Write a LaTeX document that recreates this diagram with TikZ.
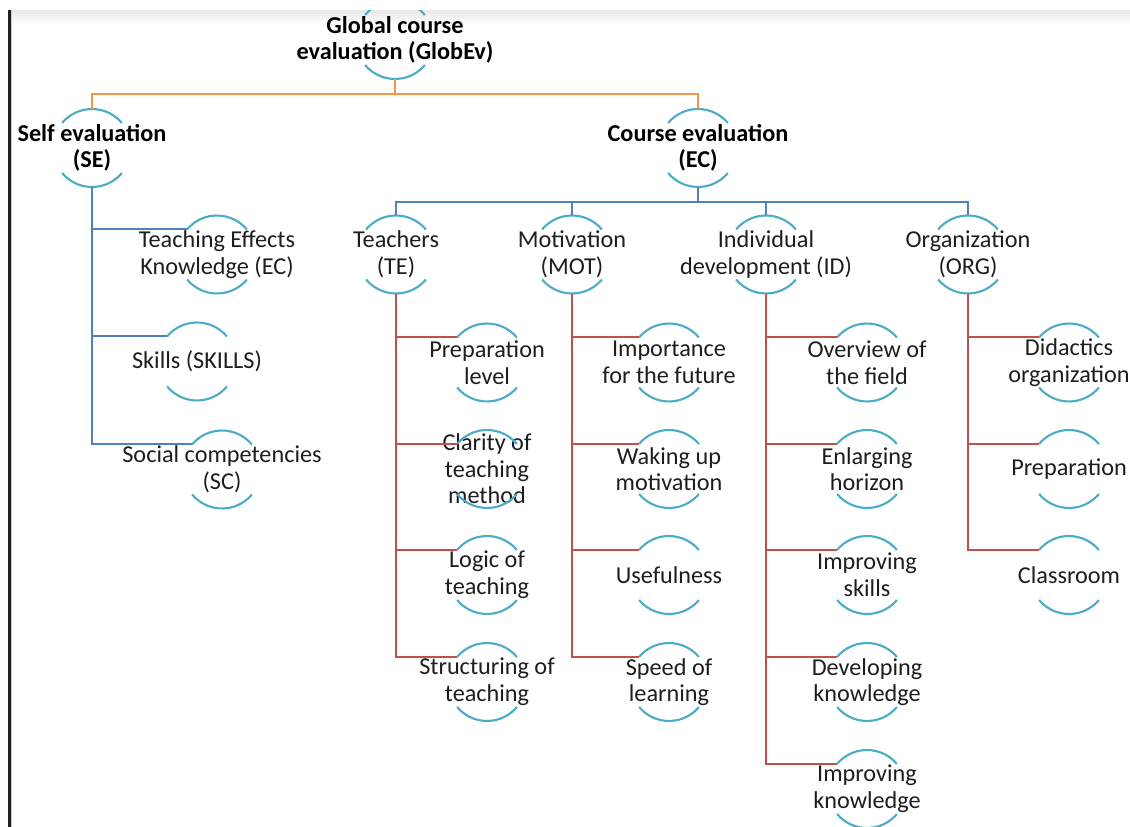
\documentclass[tikz,border=0pt]{standalone}
\usepackage{fontspec}
\setmainfont{Carlito}
\usepackage{xcolor}
\usepackage{tikz}

\definecolor{arccol}{HTML}{4BACC6}
\definecolor{orgcol}{HTML}{F79646}
\definecolor{bluecol}{HTML}{4F81BD}
\definecolor{redcol}{HTML}{C0504D}
\definecolor{txtcol}{HTML}{1E1E1E}

\begin{document}
\begin{tikzpicture}[x=0.02cm, y=-0.02cm,
  lens/.style={rectangle, inner sep=0pt, minimum width=1.2cm, minimum height=1.56cm,
    align=center, text=txtcol, font=\fontsize{13.8}{15.1}\selectfont},
  head/.style={lens, text=black, font=\fontsize{13.8}{15.1}\selectfont\bfseries},
  lensarc/.style={arccol, line width=1.2pt},
  orgline/.style={orgcol, line width=1.1pt},
  blueline/.style={bluecol, line width=1.1pt},
  redline/.style={redcol, line width=1.1pt}]
\clip (0,0) rectangle (1130,827);
\fill[white] (0,0) rectangle (1130,827);
% top shadow of the window
\shade[top color=black!9, bottom color=white] (11,10) rectangle (1130,25);

%--- Level 0 and 1 ---
\node[head] (glob) at (395,40) {Global course\\evaluation (GlobEv)};
\node[head] (se) at (92,148) {Self evaluation\\(SE)};
\node[head] (ec) at (698,148) {Course evaluation\\(EC)};

%--- Self evaluation items ---
\node[lens] (tek) at (217,254.5) {Teaching Effects\\Knowledge (EC)};
\node[lens] (skl) at (197,361.5) {Skills (SKILLS)};
\node[lens] (soc) at (222,469.5) {Social competencies\\(SC)};

%--- Course evaluation groups ---
\node[lens] (te) at (396,254.5) {Teachers\\(TE)};
\node[lens] (mot) at (572,254.5) {Motivation\\(MOT)};
\node[lens] (idv) at (766,254.5) {Individual\\development (ID)};
\node[lens] (org) at (968,254.5) {Organization\\(ORG)};

% Teachers
\node[lens] (prl) at (487,362.5) {Preparation\\level};
\node[lens] (cla) at (487,469) {Clarity of\\teaching\\method};
\node[lens] (log) at (487,575) {Logic of\\teaching};
\node[lens] (str) at (487,682) {Structuring of\\teaching};
% Motivation
\node[lens] (imf) at (669,362.5) {Importance\\for the future};
\node[lens] (wak) at (669,469) {Waking up\\motivation};
\node[lens] (use) at (669,575) {Usefulness};
\node[lens] (spe) at (669,682) {Speed of\\learning};
% Individual development
\node[lens] (ovf) at (867,362.5) {Overview of\\the field};
\node[lens] (enh) at (867,469) {Enlarging\\horizon};
\node[lens] (ims) at (867,575) {Improving\\skills};
\node[lens] (dvk) at (867,682) {Developing\\knowledge};
\node[lens] (imk) at (867,789) {Improving\\knowledge};
% Organization
\node[lens] (did) at (1069,362.5) {Didactics\\organization};
\node[lens] (pre) at (1069,469) {Preparation};
\node[lens] (cls) at (1069,575) {Classroom};

% arcs above and below every item
\foreach \n in {glob,se,ec,tek,skl,soc,te,mot,idv,org,prl,cla,log,str,imf,wak,use,spe,ovf,enh,ims,dvk,imk,did,pre,cls}
  \draw[lensarc] (\n.center) ++(40:0.78cm) arc[start angle=40, end angle=140, radius=0.78cm] coordinate (\n-in)
    (\n.center) ++(220:0.78cm) arc[start angle=220, end angle=320, radius=0.78cm];

%--- Connectors ---
\draw[orgline] (glob.south) -- ++(0,15) coordinate (j0) -| (se.north);
\draw[orgline] (j0) -| (ec.north);
\foreach \c in {tek,skl,soc} \draw[blueline] (se.south) |- (\c-in);
\draw[blueline] (ec.south) -- ++(0,14.5) coordinate (j1);
\foreach \c in {te,mot,idv,org} \draw[blueline] (j1) -| (\c.north);
\foreach \c in {prl,cla,log,str} \draw[redline] (te.south) |- (\c-in);
\foreach \c in {imf,wak,use,spe} \draw[redline] (mot.south) |- (\c-in);
\foreach \c in {ovf,enh,ims,dvk,imk} \draw[redline] (idv.south) |- (\c-in);
\foreach \c in {did,pre,cls} \draw[redline] (org.south) |- (\c-in);

% window edge
\fill[white] (0,0) rectangle (1130,10);
\fill[black!88] (8,10) rectangle (11,827);
\fill[black!20] (11,10) rectangle (12,827);
\end{tikzpicture}
\end{document}
